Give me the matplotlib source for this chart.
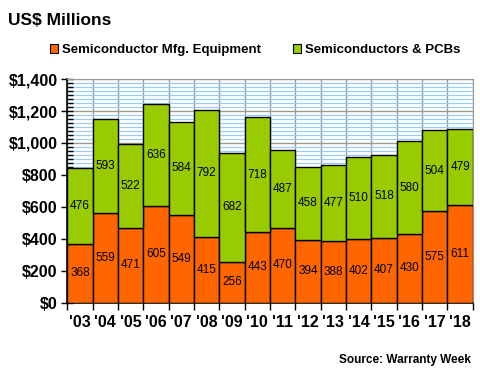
import numpy as np
import matplotlib.pyplot as plt
from matplotlib.ticker import MultipleLocator, FuncFormatter

years = ["'03", "'04", "'05", "'06", "'07", "'08", "'09", "'10",
         "'11", "'12", "'13", "'14", "'15", "'16", "'17", "'18"]
mfg_equipment = [368, 559, 471, 605, 549, 415, 256, 443, 470, 394, 388, 402, 407, 430, 575, 611]
semis_pcbs = [476, 593, 522, 636, 584, 792, 682, 718, 487, 458, 477, 510, 518, 580, 504, 479]

plt.rcParams['font.family'] = ['Liberation Sans', 'DejaVu Sans']

orange = '#FF6600'
green = '#99CC00'

fig = plt.figure(figsize=(4.8, 3.8), dpi=100)
ax = fig.add_axes([0.14, 0.203, 0.845, 0.589])

x = np.arange(len(years))
ax.bar(x, mfg_equipment, width=1.0, color=orange, edgecolor='black', linewidth=1.0, zorder=3)
ax.bar(x, semis_pcbs, width=1.0, bottom=mfg_equipment, color=green, edgecolor='black',
       linewidth=1.0, zorder=3)

# value labels in the middle of each segment
for i in range(len(years)):
    m = mfg_equipment[i]
    s = semis_pcbs[i]
    ax.text(x[i], m / 2, str(m), ha='center', va='center', fontsize=8.5, zorder=4)
    ax.text(x[i], m + s / 2, str(s), ha='center', va='center', fontsize=8.5, zorder=4)

ax.set_xlim(-0.5, len(years) - 0.5)
ax.set_ylim(0, 1400)

# y axis
ax.yaxis.set_major_locator(MultipleLocator(200))
ax.yaxis.set_minor_locator(MultipleLocator(25))
ax.yaxis.set_major_formatter(FuncFormatter(lambda v, p: '${:,.0f}'.format(v)))
ax.grid(axis='y', which='minor', color='#99CCFF', linewidth=0.9, zorder=0)
ax.grid(axis='y', which='major', color='#999999', linewidth=1.0, zorder=1)
ax.tick_params(axis='y', which='major', direction='inout', length=8, width=1, labelsize=11.5, pad=3)
ax.tick_params(axis='y', which='minor', direction='in', length=4, width=1)
for lbl in ax.get_yticklabels():
    lbl.set_fontweight('bold')

# x axis: ticks at bar boundaries, labels at bar centres
ax.set_xticks(np.arange(-0.5, len(years), 1.0))
ax.set_xticklabels([])
ax.set_xticks(x, minor=True)
ax.set_xticklabels(years, minor=True, fontsize=11.5, fontweight='bold')
ax.tick_params(axis='x', which='major', direction='out', length=5, width=1)
ax.tick_params(axis='x', which='minor', length=0, pad=9)
ax.grid(axis='x', which='major', color='#999999', linewidth=1.0, zorder=1)

for side in ['top', 'right']:
    ax.spines[side].set_color('#999999')
for side in ['left', 'bottom']:
    ax.spines[side].set_color('black')
    ax.spines[side].set_linewidth(1.2)

fig.text(0.017, 0.947, 'US$ Millions', fontsize=12.5, fontweight='bold', va='center', ha='left')

# legend
handles = [plt.Rectangle((0, 0), 1, 1, facecolor=orange, edgecolor='black', linewidth=0.8),
           plt.Rectangle((0, 0), 1, 1, facecolor=green, edgecolor='black', linewidth=0.8)]
fig.legend(handles, ['Semiconductor Mfg. Equipment', 'Semiconductors & PCBs'],
           loc='center', bbox_to_anchor=(0.532, 0.868), ncol=2, frameon=False,
           handlelength=0.6, handleheight=0.6, handletextpad=0.3,
           columnspacing=2.4, prop={'weight': 'bold', 'size': 9.5})

fig.text(0.98, 0.053, 'Source: Warranty Week', fontsize=8.5, fontweight='bold',
         ha='right', va='center')

fig.savefig('out.png', dpi=100)
